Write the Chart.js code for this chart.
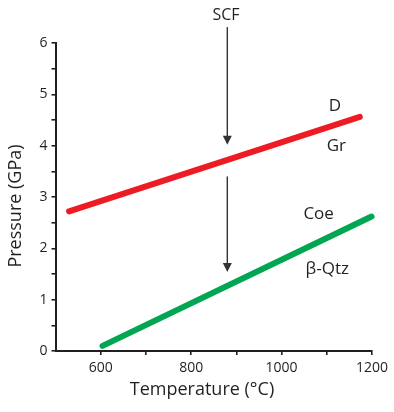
<!DOCTYPE html>
<html>
<head>
<meta charset="utf-8">
<script src="https://cdn.jsdelivr.net/npm/chart.js@4.4.1/dist/chart.umd.min.js"></script>
<style>
  html, body { margin: 0; padding: 0; background: #fff; }
  #wrap { width: 394px; height: 412px; position: relative; }
</style>
</head>
<body>
<div id="wrap"><canvas id="chart"></canvas></div>
<script>
// reaction lines (temperature in °C, pressure in GPa)
var redT = [530, 1173];
var redP = [2.72, 4.56];
var greenT = [604, 1199];
var greenP = [0.10, 2.62];

// SCF arrows
var arrowT = [880, 880];
var arrow1P = [6.31, 4.02];
var arrow2P = [3.40, 1.54];

// phase labels
var labelText = ['SCF', 'D', 'Gr', 'Coe', '\u03b2-Qtz'];
var labelT = [877, 1118, 1121, 1082, 1101];
var labelP = [6.54, 4.77, 3.99, 2.66, 1.60];

var xMajor = [600, 800, 1000, 1200];
var yMajor = [0, 1, 2, 3, 4, 5, 6];

var ink = '#231f20';
var font = '"Open Sans", sans-serif';

function toPoints(xs, ys) {
	return xs.map(function (x, i) { return { x: x, y: ys[i] }; });
}

var extras = {
	id: 'extras',
	afterDraw: function (chart) {
		var ctx = chart.ctx;
		var xs = chart.scales.x, ys = chart.scales.y;

		// arrows
		ctx.save();
		ctx.strokeStyle = '#333';
		ctx.fillStyle = '#333';
		ctx.lineWidth = 1.4;
		[arrow1P, arrow2P].forEach(function (p) {
			var x = xs.getPixelForValue(arrowT[0]);
			var y0 = ys.getPixelForValue(p[0]);
			var y1 = ys.getPixelForValue(p[1]);
			ctx.beginPath();
			ctx.moveTo(x, y0);
			ctx.lineTo(x, y1 - 6);
			ctx.stroke();
			ctx.beginPath();
			ctx.moveTo(x, y1);
			ctx.lineTo(x - 4.5, y1 - 9);
			ctx.lineTo(x + 4.5, y1 - 9);
			ctx.closePath();
			ctx.fill();
		});
		ctx.restore();

		// labels
		ctx.save();
		ctx.fillStyle = ink;
		ctx.textAlign = 'center';
		ctx.textBaseline = 'middle';
		labelText.forEach(function (t, i) {
			ctx.font = (i === 0 ? '16px ' : '17px ') + font;
			ctx.fillText(t, xs.getPixelForValue(labelT[i]), ys.getPixelForValue(labelP[i]));
		});

		// axis titles
		ctx.font = '18px ' + font;
		ctx.fillText('Temperature (\u00b0C)', 202, 390);
		ctx.translate(16, 206);
		ctx.rotate(-Math.PI / 2);
		ctx.fillText('Pressure (GPa)', 0, 0);
		ctx.restore();
	}
};

new Chart(document.getElementById('chart'), {
	type: 'scatter',
	data: {
		datasets: [{
			data: toPoints(redT, redP),
			showLine: true,
			borderColor: '#ed1c24',
			borderWidth: 6,
			borderCapStyle: 'round',
			pointRadius: 0,
			clip: false
		}, {
			data: toPoints(greenT, greenP),
			showLine: true,
			borderColor: '#00a651',
			borderWidth: 6,
			borderCapStyle: 'round',
			pointRadius: 0,
			clip: false
		}]
	},
	options: {
		responsive: true,
		maintainAspectRatio: false,
		animation: false,
		events: [],
		layout: { padding: { top: 43, right: 22, left: 0, bottom: 0 } },
		plugins: { legend: { display: false }, tooltip: { enabled: false } },
		scales: {
			x: {
				type: 'linear',
				min: 500,
				max: 1200,
				afterFit: function (s) { s.height = 61; },
				afterBuildTicks: function (s) {
					s.ticks = [600, 700, 800, 900, 1000, 1100, 1200].map(function (v) { return { value: v }; });
				},
				border: { display: true, color: ink, width: 2 },
				grid: { drawOnChartArea: false, drawTicks: true, tickLength: 4, color: ink, lineWidth: 1.6 },
				ticks: {
					color: ink,
					padding: 5,
					maxRotation: 0,
					font: { family: font, size: 14 },
					callback: function (v) { return xMajor.indexOf(v) >= 0 ? String(v) : ''; }
				}
			},
			y: {
				type: 'linear',
				min: 0,
				max: 6,
				afterFit: function (s) { s.width = 55.5; },
				afterBuildTicks: function (s) {
					var t = [];
					for (var i = 0; i <= 12; i++) t.push({ value: i / 2 });
					s.ticks = t;
				},
				border: { display: true, color: ink, width: 2 },
				grid: { drawOnChartArea: false, drawTicks: true, tickLength: 4, color: ink, lineWidth: 1.6 },
				ticks: {
					color: ink,
					padding: 4,
					font: { family: font, size: 14 },
					callback: function (v) { return yMajor.indexOf(v) >= 0 ? String(v) : ''; }
				}
			}
		}
	},
	plugins: [extras]
});
</script>
</body>
</html>
